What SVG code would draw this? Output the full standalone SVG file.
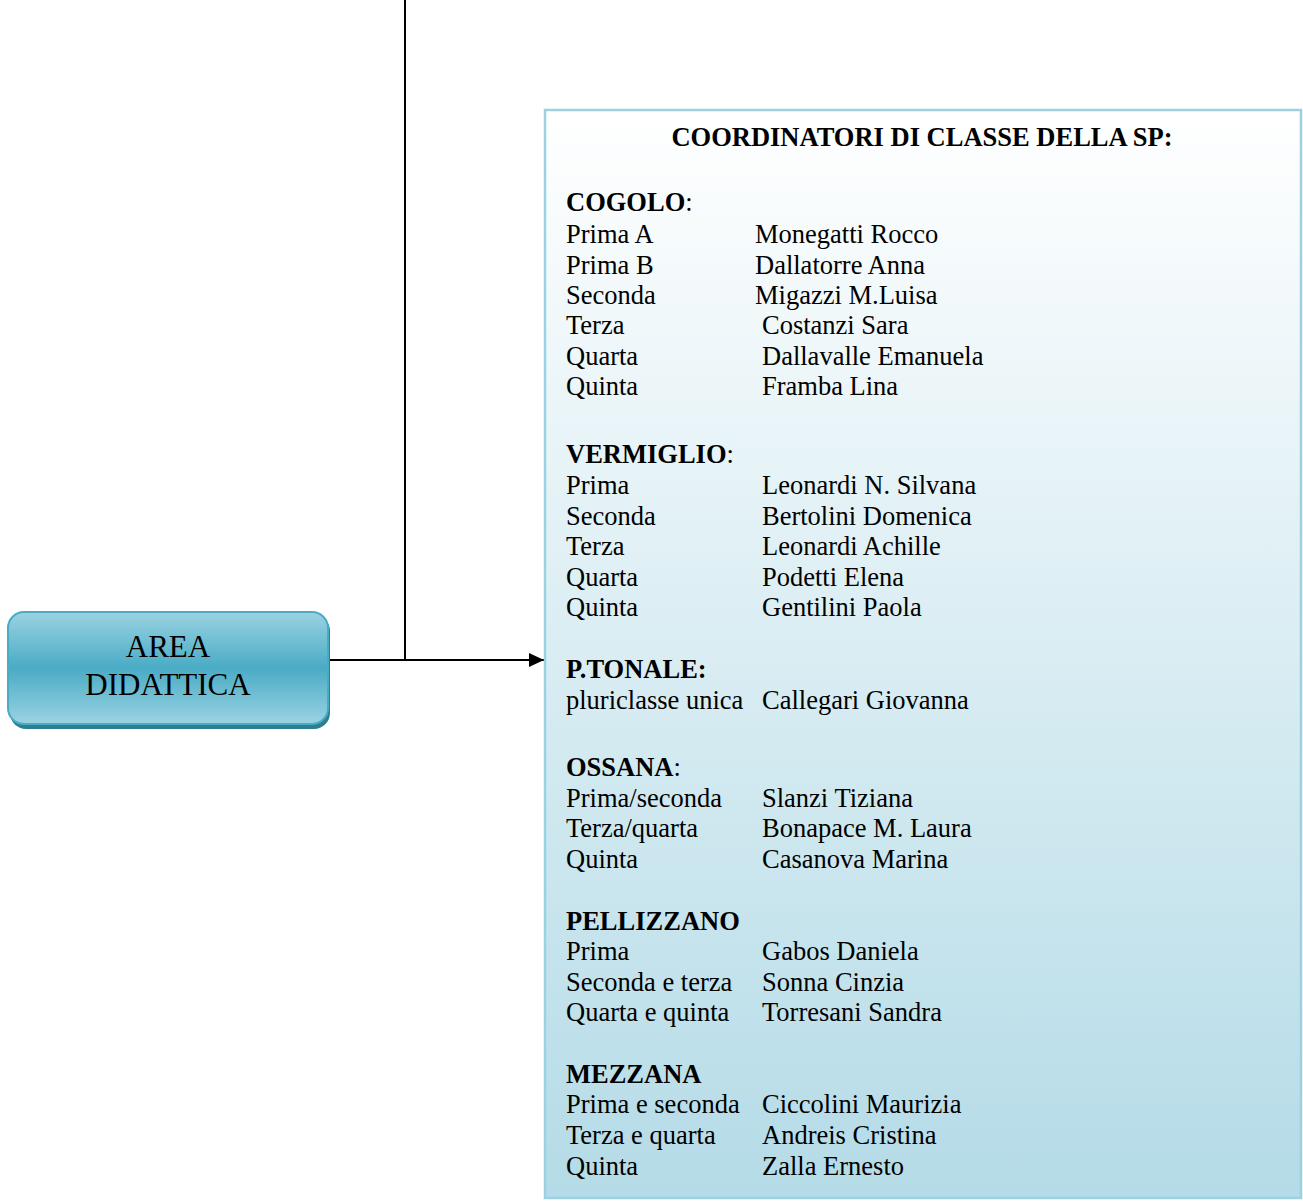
<svg xmlns="http://www.w3.org/2000/svg" width="1303" height="1201" viewBox="0 0 1303 1201">
<defs>
<linearGradient id="gArea" x1="0" y1="0" x2="0" y2="1">
<stop offset="0" stop-color="#9ad3e2"/>
<stop offset="0.5" stop-color="#4aabc5"/>
<stop offset="1" stop-color="#9ad3e2"/>
</linearGradient>
<linearGradient id="gBox" x1="0" y1="0" x2="0" y2="1">
<stop offset="0" stop-color="#ffffff"/>
<stop offset="1" stop-color="#b4dbe7"/>
</linearGradient>
<marker id="arr" markerWidth="15" markerHeight="14" refX="15" refY="7" orient="auto" markerUnits="userSpaceOnUse" viewBox="0 0 15 14">
<path d="M0,0 L15,7 L0,14 z" fill="#000"/>
</marker>
<style>
.t{font-family:"Liberation Serif","Times New Roman",serif;font-size:26.5px;fill:#000}
.b{font-weight:bold}
.a{font-family:"Liberation Serif","Times New Roman",serif;font-size:31px;fill:#000;text-anchor:middle}
</style>
</defs>
<rect x="0" y="0" width="1303" height="1201" fill="#fff"/>
<g id="connectors">
<line x1="405" y1="0" x2="405" y2="661" stroke="#000" stroke-width="2"/>
<line x1="328" y1="660" x2="544" y2="660" stroke="#000" stroke-width="2" marker-end="url(#arr)"/>
</g>
<g id="area-didattica">
<rect x="10" y="615" width="320" height="114" rx="16" fill="#2e7e92"/>
<rect x="8" y="612" width="320" height="112" rx="16" fill="url(#gArea)" stroke="#4aabc5" stroke-width="2"/>
<text class="a" x="168" y="657">AREA</text>
<text class="a" x="168" y="695">DIDATTICA</text>
</g>
<g id="coordinatori">
<rect x="545" y="110" width="756" height="1088" fill="url(#gBox)" stroke="#9bd2e1" stroke-width="2.5"/>
<text class="t b" x="922" y="146" text-anchor="middle">COORDINATORI DI CLASSE DELLA SP:</text>
<text class="t" x="566" y="211"><tspan class="b">COGOLO</tspan>:</text>
<text class="t" x="566" y="243">Prima A</text><text class="t" x="755" y="243">Monegatti Rocco</text>
<text class="t" x="566" y="274">Prima B</text><text class="t" x="755" y="274">Dallatorre Anna</text>
<text class="t" x="566" y="304">Seconda</text><text class="t" x="755" y="304">Migazzi M.Luisa</text>
<text class="t" x="566" y="334">Terza</text><text class="t" x="762" y="334">Costanzi Sara</text>
<text class="t" x="566" y="365">Quarta</text><text class="t" x="762" y="365">Dallavalle Emanuela</text>
<text class="t" x="566" y="395">Quinta</text><text class="t" x="762" y="395">Framba Lina</text>
<text class="t" x="566" y="463"><tspan class="b">VERMIGLIO</tspan>:</text>
<text class="t" x="566" y="494">Prima</text><text class="t" x="762" y="494">Leonardi N. Silvana</text>
<text class="t" x="566" y="525">Seconda</text><text class="t" x="762" y="525">Bertolini Domenica</text>
<text class="t" x="566" y="555">Terza</text><text class="t" x="762" y="555">Leonardi Achille</text>
<text class="t" x="566" y="586">Quarta</text><text class="t" x="762" y="586">Podetti Elena</text>
<text class="t" x="566" y="616">Quinta</text><text class="t" x="762" y="616">Gentilini Paola</text>
<text class="t b" x="566" y="678">P.TONALE:</text>
<text class="t" x="566" y="709">pluriclasse unica</text><text class="t" x="762" y="709">Callegari Giovanna</text>
<text class="t" x="566" y="776"><tspan class="b">OSSANA</tspan>:</text>
<text class="t" x="566" y="807">Prima/seconda</text><text class="t" x="762" y="807">Slanzi Tiziana</text>
<text class="t" x="566" y="837">Terza/quarta</text><text class="t" x="762" y="837">Bonapace M. Laura</text>
<text class="t" x="566" y="868">Quinta</text><text class="t" x="762" y="868">Casanova Marina</text>
<text class="t b" x="566" y="930">PELLIZZANO</text>
<text class="t" x="566" y="960">Prima</text><text class="t" x="762" y="960">Gabos Daniela</text>
<text class="t" x="566" y="991">Seconda e terza</text><text class="t" x="762" y="991">Sonna Cinzia</text>
<text class="t" x="566" y="1021">Quarta e quinta</text><text class="t" x="762" y="1021">Torresani Sandra</text>
<text class="t b" x="566" y="1083">MEZZANA</text>
<text class="t" x="566" y="1113">Prima e seconda</text><text class="t" x="762" y="1113">Ciccolini Maurizia</text>
<text class="t" x="566" y="1144">Terza e quarta</text><text class="t" x="762" y="1144">Andreis Cristina</text>
<text class="t" x="566" y="1175">Quinta</text><text class="t" x="762" y="1175">Zalla Ernesto</text>
</g>
</svg>
